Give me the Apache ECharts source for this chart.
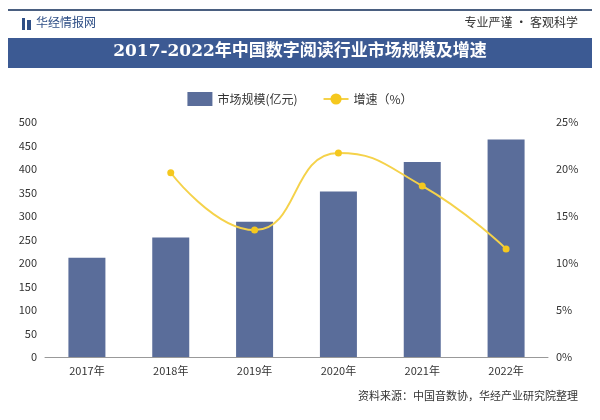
<!DOCTYPE html>
<html><head><meta charset="utf-8">
<script src="https://cdn.jsdelivr.net/npm/echarts@6/dist/echarts.min.js"></script>
<style>html,body{margin:0;padding:0;background:#fff}#c{width:600px;height:420px}</style>
</head><body><div id="c"></div>
<script>
var years = ['2017年','2018年','2019年','2020年','2021年','2022年'];
var marketSize = [211, 254, 288, 352, 415, 463];
var growth = [null, 19.6, 13.5, 21.7, 18.2, 11.5];
var font = '"Noto Sans CJK SC", sans-serif';
var chart = echarts.init(document.getElementById('c'));
chart.setOption({
  backgroundColor: '#fff',
  animation: false,
  textStyle: {fontFamily: font},
  graphic: [
    {type:'rect', shape:{x:8,y:9,width:584,height:2}, style:{fill:'#4a5f80'}},
    {type:'rect', shape:{x:22,y:18,width:3,height:12}, style:{fill:'#2f4f86'}},
    {type:'rect', shape:{x:27,y:20,width:4,height:10}, style:{fill:'#2f4f86'}},
    {type:'text', left:36, top:16, style:{text:'华经情报网', fill:'#2f4f86', font:'12px '+font}},
    {type:'text', right:22, top:16, style:{text:'专业严谨 • 客观科学', fill:'#333', font:'12px '+font}},
    {type:'rect', shape:{x:8,y:38,width:584,height:30}, style:{fill:'#3c5a93'}},
    {type:'text', left:'center', top:43, style:{text:'2017-2022年中国数字阅读行业市场规模及增速', fill:'#fff', font:'bold 17px "DejaVu Serif", '+font}},
    {type:'text', right:22, top:390, style:{text:'资料来源：中国音数协，华经产业研究院整理', fill:'#333', font:'11px '+font}}
  ],
  legend: {
    top: 87, left: 'center', itemGap: 25,
    textStyle: {fontSize: 12, color: '#333'},
    data: [{name:'市场规模(亿元)', icon:'rect', itemWidth:22, itemHeight:6},
           {name:'增速（%）'}]
  },
  grid: {left: 45, right: 52, top: 122, bottom: 63},
  xAxis: {
    type: 'category', data: years,
    axisLine: {lineStyle:{color:'#999'}}, axisTick:{show:false},
    axisLabel: {color:'#333', fontSize:11}
  },
  yAxis: [
    {type:'value', min:0, max:500, interval:50, splitLine:{show:false},
     axisLine:{show:false}, axisTick:{show:false}, axisLabel:{color:'#333', fontSize:11}},
    {type:'value', min:0, max:25, interval:5, splitLine:{show:false},
     axisLine:{show:false}, axisTick:{show:false}, axisLabel:{color:'#333', fontSize:11, formatter:'{value}%'}}
  ],
  series: [
    {name:'市场规模(亿元)', type:'bar', data: marketSize, barWidth: 37,
     itemStyle:{color:'#5a6d9a'}},
    {name:'增速（%）', type:'line', yAxisIndex:1, data: growth, smooth:0.5,
     symbol:'circle', symbolSize:7, connectNulls:false,
     itemStyle:{color:'#f5c81e'}, lineStyle:{color:'#f5d24a', width:2}}
  ]
});
</script></body></html>
